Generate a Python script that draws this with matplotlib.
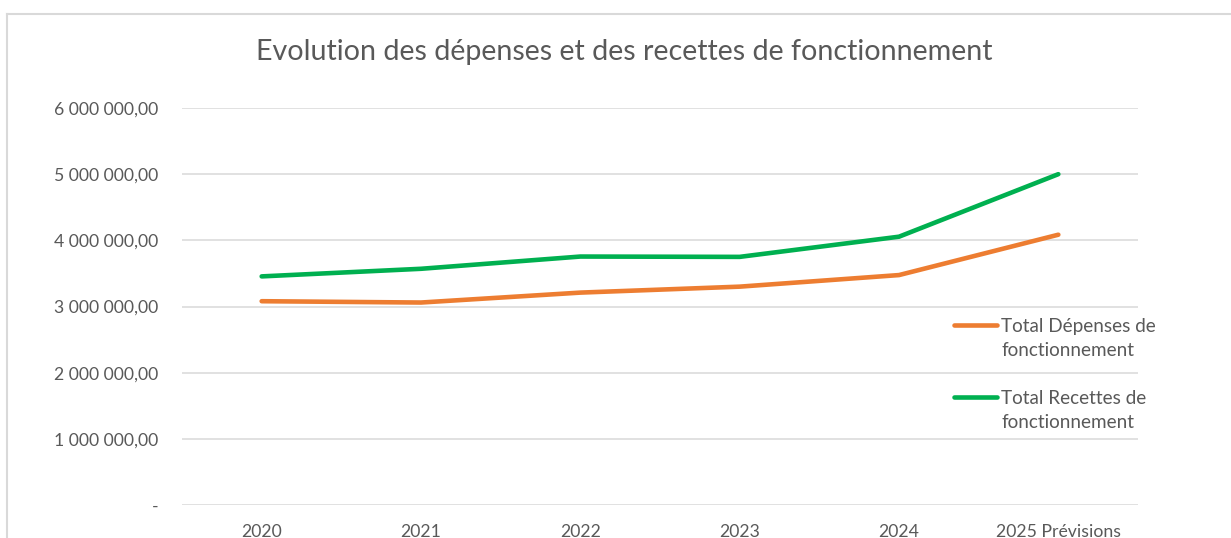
import matplotlib
matplotlib.use("Agg")
import matplotlib.pyplot as plt
from matplotlib.lines import Line2D
from matplotlib.ticker import FuncFormatter

categories = ["2020", "2021", "2022", "2023", "2024", "2025 Prévisions"]
depenses = [3080000, 3060000, 3210000, 3300000, 3475000, 4085000]
recettes = [3455000, 3570000, 3755000, 3750000, 4055000, 5000000]
series_labels = ["Total Dépenses de\nfonctionnement", "Total Recettes de\nfonctionnement"]
title = "Evolution des dépenses et des recettes de fonctionnement"
yticks = [0, 1000000, 2000000, 3000000, 4000000, 5000000, 6000000]

ORANGE = "#ED7D31"
GREEN = "#00B050"
TXT = "#595959"
GRID = "#D9D9D9"

plt.rcParams['font.family'] = ['Lato', 'DejaVu Sans']

W, H = 1231, 538
fig = plt.figure(figsize=(W / 100, H / 100), dpi=100)
fig.patch.set_facecolor("white")

def fx(px):
    return px / W

def fy(py):
    return 1 - py / H

ax = fig.add_axes([fx(182), fy(505), fx(1138) - fx(182), fy(108) - fy(505)])
x = list(range(len(categories)))
ax.plot(x, depenses, color=ORANGE, lw=3.3, solid_capstyle="round", solid_joinstyle="round", zorder=3)
ax.plot(x, recettes, color=GREEN, lw=3.3, solid_capstyle="round", solid_joinstyle="round", zorder=3)

ax.set_xlim(-0.5, len(categories) - 0.5)
ax.set_ylim(0, 6000000)
ax.set_yticks(yticks)
ax.set_xticks(x)
ax.set_xticklabels(categories)

def fmt(v, pos):
    if v == 0:
        return "-"
    s = f"{int(round(v)):,}".replace(",", " ")
    return s + ",00"

ax.yaxis.set_major_formatter(FuncFormatter(fmt))
ax.grid(axis="y", color=GRID, lw=1.1)
ax.set_axisbelow(True)
for sp in ax.spines.values():
    sp.set_visible(False)
ax.tick_params(axis="both", length=0, colors=TXT, labelsize=12.7)
ax.tick_params(axis="y", pad=17)
ax.tick_params(axis="x", pad=14)

fig.text(fx(624), fy(52), title, ha="center", va="center", fontsize=20.6, color=TXT)

# legend drawn manually
leg_colors = [ORANGE, GREEN]
leg_y = [325, 397]
for c, yy, lab in zip(leg_colors, leg_y, series_labels):
    fig.add_artist(Line2D([fx(954), fx(997)], [fy(yy), fy(yy)], color=c, lw=3.3,
                          solid_capstyle="round", transform=fig.transFigure))
    for i, line in enumerate(lab.split("\n")):
        fig.text(fx(1001), fy(yy + 24 * i), line, ha="left", va="center_baseline", fontsize=13.6,
                 color=TXT)

# chart border
fig.add_artist(Line2D([fx(7), fx(1231)], [fy(14), fy(14)], color=GRID, lw=1.5, transform=fig.transFigure))
fig.add_artist(Line2D([fx(7), fx(7)], [fy(14), fy(538)], color=GRID, lw=1.5, transform=fig.transFigure))

fig.savefig("out.png", dpi=100)
